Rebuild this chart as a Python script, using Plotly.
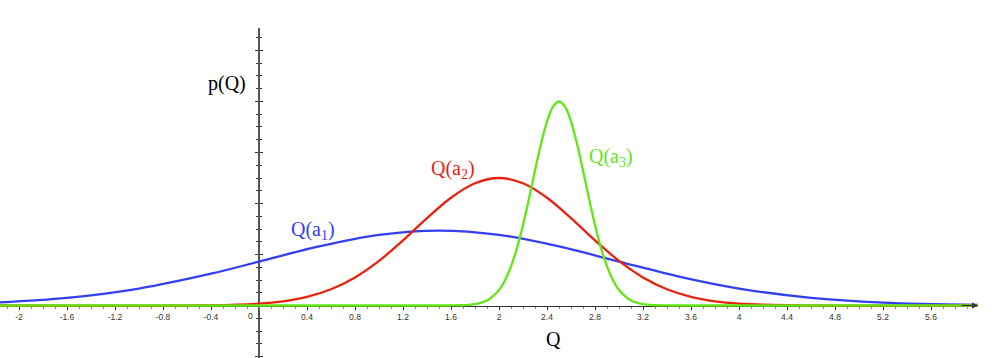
import plotly.graph_objects as go

# ---- data ----
blue_x = [-2.2, -1.6, -1.0, -0.4, 0.0, 0.5, 1.0, 1.5, 2.0, 2.5, 3.0, 3.5, 4.0, 4.6, 5.2, 6.0]
blue_y = [0.057, 0.150, 0.333, 0.623, 0.861, 1.159, 1.385, 1.47, 1.385, 1.159, 0.861, 0.568, 0.333, 0.150, 0.057, 0.012]

red_x = [-2.2, -0.4, 0.0, 0.2, 0.4, 0.6, 0.8, 1.0, 1.2, 1.4, 1.6, 1.8, 2.0, 2.2, 2.4, 2.6,
         2.8, 3.0, 3.2, 3.4, 3.6, 3.8, 4.0, 4.4, 6.0]
red_y = [0.0, 0.006, 0.037, 0.083, 0.170, 0.319, 0.551, 0.875, 1.277, 1.713, 2.113, 2.397, 2.5,
         2.397, 2.113, 1.713, 1.277, 0.875, 0.551, 0.319, 0.170, 0.083, 0.037, 0.006, 0.0]

green_x = [-2.2, 0.0, 1.0, 1.5, 1.6, 1.7, 1.8, 1.9, 2.0, 2.05, 2.1, 2.15, 2.2, 2.25, 2.3, 2.35, 2.4,
           2.45, 2.5, 2.55, 2.6, 2.65, 2.7, 2.75, 2.8, 2.85, 2.9, 2.95, 3.0, 3.1, 3.2, 3.3, 3.4,
           3.5, 4.0, 5.0, 6.0]
green_y = [0.0, 0.0, 0.0, 0.0, 0.001, 0.005, 0.025, 0.097, 0.302, 0.494, 0.766, 1.128, 1.578, 2.097,
           2.646, 3.170, 3.607, 3.898, 4.0, 3.898, 3.607, 3.170, 2.646, 2.097, 1.578, 1.128, 0.766,
           0.494, 0.302, 0.097, 0.025, 0.005, 0.001, 0.0, 0.0, 0.0, 0.0]

x_tick_vals = [-2.0, -1.6, -1.2, -0.8, -0.4, 0.4, 0.8, 1.2, 1.6, 2.0, 2.4, 2.8, 3.2, 3.6, 4.0, 4.4, 4.8, 5.2, 5.6]
x_tick_text = ["-2", "-1.6", "-1.2", "-0.8", "-0.4", "0.4", "0.8", "1.2", "1.6", "2", "2.4", "2.8",
               "3.2", "3.6", "4", "4.4", "4.8", "5.2", "5.6"]

curve_labels = ["Q(a<sub>1</sub>)", "Q(a<sub>2</sub>)", "Q(a<sub>3</sub>)"]
colors = ["#3340f0", "#e8220e", "#62e615"]

# ---- geometry ----
W, H = 1007, 358
X_RANGE = [-2.1583, 5.9917]
X_DOMAIN = [0, 978 / W]
Y_RANGE = [-1.0294, 5.441]
Y_DOMAIN = [0, (H - 28) / H]
Y_AXIS_POS = 259 / W          # paper x of Q = 0
X_AXIS_POS = (H - 305.5) / H  # paper y of p = 0

fig = go.Figure()
for xs, ys, c in zip([blue_x, red_x, green_x], [blue_y, red_y, green_y], colors):
    fig.add_trace(go.Scatter(x=xs, y=ys, mode="lines", line=dict(color=c, width=2.3, shape="spline", smoothing=1.0),
                             hoverinfo="skip", showlegend=False))
# dummy trace so the overlay y axis is drawn
fig.add_trace(go.Scatter(x=[None], y=[None], xaxis="x", yaxis="y2", showlegend=False, hoverinfo="skip"))

axis_col = "#555555"
fig.update_layout(
    width=W, height=H, margin=dict(l=0, r=0, t=0, b=0),
    paper_bgcolor="white", plot_bgcolor="white",
    xaxis=dict(range=X_RANGE, domain=X_DOMAIN, anchor="free", position=X_AXIS_POS,
               showgrid=False, zeroline=False, showline=True, linecolor="#333333", linewidth=1,
               tickmode="array", tickvals=x_tick_vals, ticktext=x_tick_text,
               ticks="outside", ticklen=3, tickcolor="#333333", tickwidth=1,
               minor=dict(dtick=0.1, tick0=0, ticks="outside", ticklen=2, tickcolor="#888888"),
               tickfont=dict(family="Liberation Sans, Arial", size=8.5, color="#333333"),
               layer="below traces"),
    yaxis=dict(range=Y_RANGE, domain=Y_DOMAIN, anchor="free", position=Y_AXIS_POS,
               showgrid=False, zeroline=False, showline=True, linecolor=axis_col, linewidth=1.5,
               tick0=0, dtick=1, ticks="outside", ticklen=3, tickcolor="#333333", tickwidth=1,
               minor=dict(dtick=0.25, tick0=0, ticks="outside", ticklen=2, tickcolor="#333333"),
               showticklabels=False, layer="below traces"),
    yaxis2=dict(range=Y_RANGE, domain=Y_DOMAIN, overlaying="y", anchor="free", position=Y_AXIS_POS,
                showgrid=False, zeroline=False, showline=False,
                tick0=0, dtick=1, ticks="inside", ticklen=3, tickcolor="#333333", tickwidth=1,
                minor=dict(dtick=0.25, tick0=0, ticks="inside", ticklen=2, tickcolor="#333333"),
                showticklabels=False, layer="below traces"),
)

serif = "Liberation Serif, Times New Roman, serif"
ann = []
# arrow head at the end of the Q axis
ann.append(dict(x=X_RANGE[1], y=0, ax=X_RANGE[1] - 0.15, ay=0, xref="x", yref="y", axref="x", ayref="y",
                text="", showarrow=True, arrowhead=2, arrowsize=1, arrowwidth=1.2, arrowcolor="#333333"))
# zero label placed left of the p axis
ann.append(dict(x=0, y=0, xref="x", yref="y", text="0", showarrow=False, xshift=-9, yshift=-10,
                font=dict(family="Liberation Sans, Arial", size=8.5, color="#333333")))
# axis titles
ann.append(dict(x=-0.267, y=4.36, xref="x", yref="y", text="p(Q)", showarrow=False,
                font=dict(family=serif, size=20, color="black")))
ann.append(dict(x=2.458, y=-0.657, xref="x", yref="y", text="Q", showarrow=False,
                font=dict(family=serif, size=20, color="black")))
# curve labels
for (lx, ly), t, c in zip([(0.446, 1.48), (1.62, 2.66), (2.93, 2.91)], curve_labels, colors):
    ann.append(dict(x=lx, y=ly, xref="x", yref="y", text=t, showarrow=False,
                    font=dict(family=serif, size=20, color=c)))
fig.update_layout(annotations=ann)

fig.write_html("out.html", config={"displayModeBar": False},
               post_script="document.body.style.margin='0';document.body.style.padding='0';")
